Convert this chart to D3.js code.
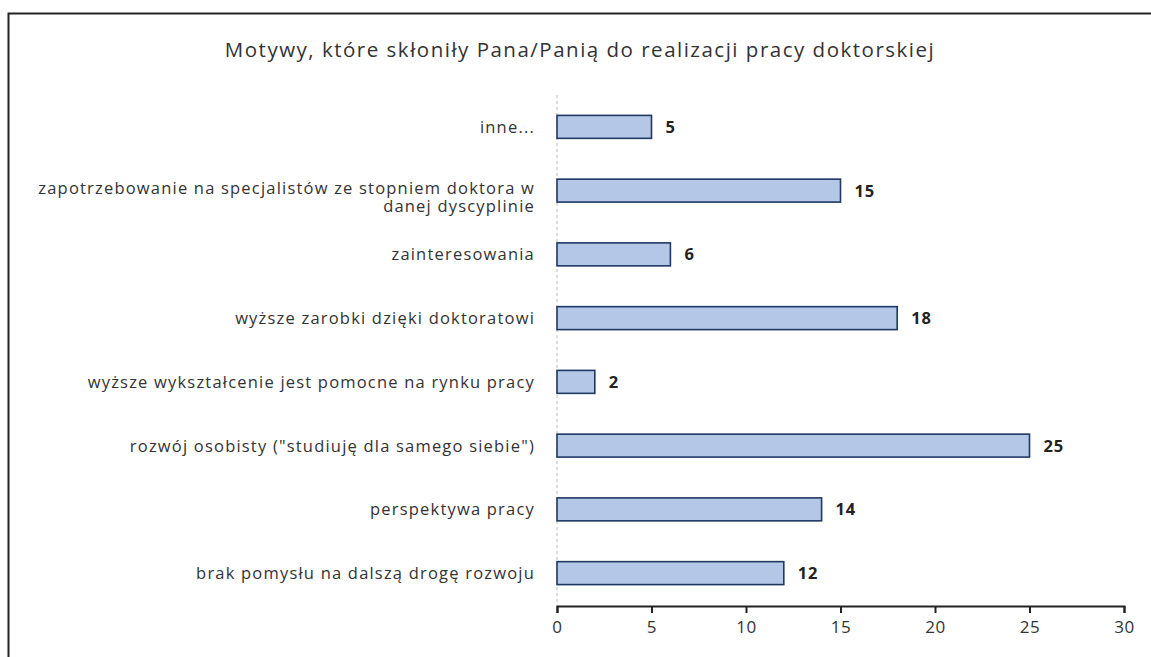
<!DOCTYPE html>
<html>
<head>
<meta charset="utf-8">
<script src="https://cdn.jsdelivr.net/npm/d3@7"></script>
<style>
  body { margin: 0; background: #fff; }
  svg { display: block; }
</style>
</head>
<body>
<svg id="chart" width="1151" height="657"></svg>
<script>
// dane z wykresu
const categories = [
  "inne...",
  "zapotrzebowanie na specjalistów ze stopniem doktora w|danej dyscyplinie",
  "zainteresowania",
  "wyższe zarobki dzięki doktoratowi",
  "wyższe wykształcenie jest pomocne na rynku pracy",
  "rozwój osobisty (\"studiuję dla samego siebie\")",
  "perspektywa pracy",
  "brak pomysłu na dalszą drogę rozwoju"
]
const values = [5, 15, 6, 18, 2, 25, 14, 12]
const ticks = [0, 5, 10, 15, 20, 25, 30]
const title = "Motywy, które skłoniły Pana/Panią do realizacji pracy doktorskiej"

const data = categories.map((c, i) => ({name: c, value: values[i]}))

const svg = d3.select("#chart")

// ramka
svg.append("rect").attr("x", 8.5).attr("y", 13.5).attr("width", 1160).attr("height", 680)
  .attr("fill", "none").attr("stroke", "#222").attr("stroke-width", 2)

svg.append("text").attr("x", 580).attr("y", 57).attr("text-anchor", "middle")
  .attr("font-family", "Open Sans").attr("font-size", 20.5).attr("letter-spacing", 1.5)
  .attr("fill", "#333")
  .text(title)

const x = d3.scaleLinear().domain([0, 30]).range([557, 1124])
const y = d3.scaleBand().domain(categories).range([95, 605]).paddingInner(0.64).paddingOuter(0.32)

// przerywana linia przy zerze
svg.append("line").attr("x1", x(0)).attr("x2", x(0)).attr("y1", 95).attr("y2", 606)
  .attr("stroke", "#bbb").attr("stroke-dasharray", "3,3")

const g = svg.append("g")
g.selectAll(".bar").data(data).join("rect").attr("class", "bar")
  .attr("x", x(0))
  .attr("y", d => y(d.name))
  .attr("width", d => x(d.value) - x(0))
  .attr("height", y.bandwidth())
  .attr("fill", "#b4c7e7")
  .attr("stroke", "#1f3864").attr("stroke-width", 1.6)

g.selectAll(".val").data(data).join("text").attr("class", "val")
  .attr("x", d => x(d.value) + 14)
  .attr("y", d => y(d.name) + y.bandwidth() / 2 + 6)
  .attr("font-family", "Open Sans").attr("font-weight", "bold").attr("font-size", 16.5)
  .attr("letter-spacing", 0.8)
  .attr("fill", "#222")
  .text(d => d.value)

// etykiety kategorii
g.selectAll(".lab").data(data).join("text").attr("class", "lab")
  .attr("text-anchor", "end")
  .attr("font-family", "Open Sans").attr("font-size", 16.5).attr("letter-spacing", 1.2)
  .attr("fill", "#333")
  .each(function(d) {
    const lines = d.name.split("|")
    const cy = y(d.name) + y.bandwidth() / 2
    const t = d3.select(this)
    lines.forEach((l, i) => {
      t.append("tspan").attr("x", 535)
        .attr("y", lines.length > 1 ? cy + 3 + i * 18 : cy + 6)
        .text(l)
    })
  })

// oś X
const axis = d3.axisBottom(x).tickValues(ticks).tickSize(7).tickPadding(8)
const ax = svg.append("g").attr("transform", "translate(0,606)").call(axis)
ax.select(".domain").attr("stroke", "#222").attr("stroke-width", 2)
ax.selectAll(".tick line").attr("stroke", "#222").attr("stroke-width", 2)
ax.selectAll(".tick text").attr("font-family", "Open Sans").attr("font-size", 17)
  .attr("letter-spacing", 0.6).attr("fill", "#333")
</script>
</body>
</html>
